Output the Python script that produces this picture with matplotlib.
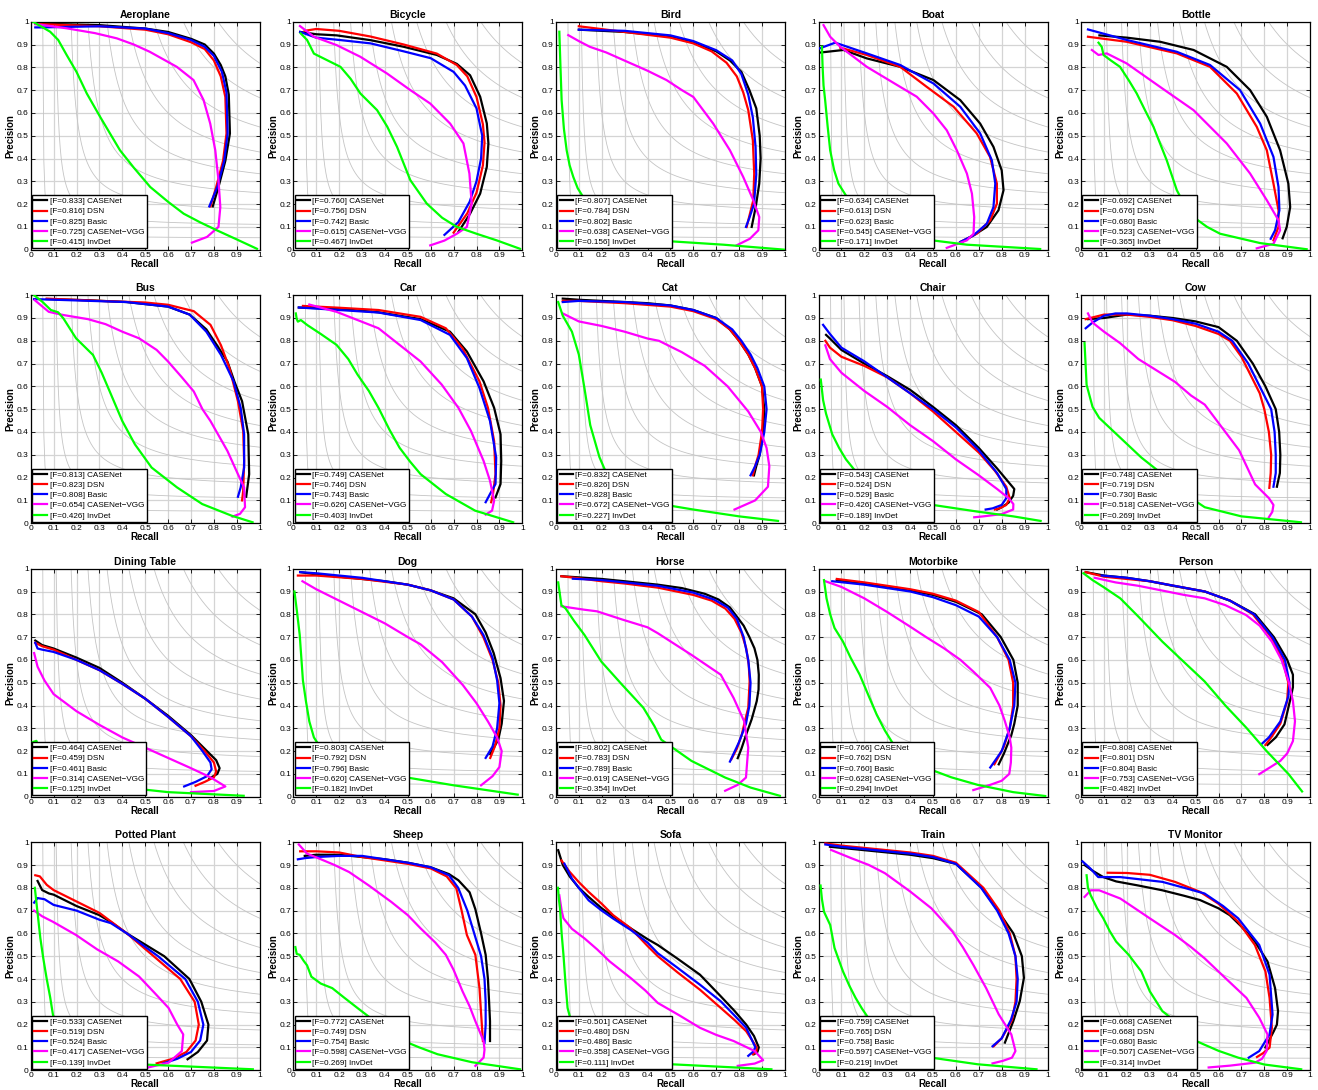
import numpy as np
import matplotlib
matplotlib.use("Agg")
import matplotlib.pyplot as plt

# ------------------------ data: (recall, precision) points ------------------------
classes = ["Aeroplane", "Bicycle", "Bird", "Boat", "Bottle",
           "Bus", "Car", "Cat", "Chair", "Cow",
           "Dining Table", "Dog", "Horse", "Motorbike", "Person",
           "Potted Plant", "Sheep", "Sofa", "Train", "TV Monitor"]

methods = ["CASENet", "DSN", "Basic", "CASENet\u2212VGG", "InvDet"]
colors = ["#000000", "#ff0000", "#0000ff", "#ff00ff", "#00ff00"]

# F-scores per method, one value per class (same order as classes)
f_casenet = [0.833, 0.760, 0.807, 0.634, 0.692, 0.813, 0.749, 0.832, 0.543, 0.748,
             0.464, 0.803, 0.802, 0.766, 0.808, 0.533, 0.772, 0.501, 0.759, 0.668]
f_dsn = [0.816, 0.756, 0.784, 0.613, 0.676, 0.823, 0.746, 0.826, 0.524, 0.719,
         0.459, 0.792, 0.783, 0.762, 0.801, 0.519, 0.749, 0.480, 0.765, 0.668]
f_basic = [0.825, 0.742, 0.802, 0.623, 0.680, 0.808, 0.743, 0.828, 0.529, 0.730,
           0.461, 0.796, 0.789, 0.760, 0.804, 0.524, 0.754, 0.486, 0.758, 0.680]
f_vgg = [0.725, 0.615, 0.638, 0.545, 0.523, 0.654, 0.626, 0.672, 0.426, 0.518,
         0.314, 0.620, 0.619, 0.628, 0.753, 0.417, 0.598, 0.358, 0.597, 0.507]
f_invdet = [0.415, 0.467, 0.156, 0.171, 0.365, 0.426, 0.403, 0.227, 0.189, 0.269,
            0.125, 0.182, 0.354, 0.294, 0.482, 0.139, 0.269, 0.111, 0.219, 0.314]

aeroplane = {
    "CASENet": [(0.02, 0.99), (0.1, 0.99), (0.3, 0.985), (0.5, 0.97), (0.6, 0.955), (0.7, 0.925), (0.76, 0.9),
                (0.8, 0.86), (0.83, 0.81), (0.85, 0.76), (0.865, 0.68), (0.87, 0.51), (0.85, 0.39),
                (0.82, 0.275), (0.795, 0.19)],
    "DSN": [(0.02, 0.99), (0.3, 0.98), (0.5, 0.965), (0.6, 0.945), (0.7, 0.91), (0.76, 0.88), (0.8, 0.83),
            (0.83, 0.76), (0.85, 0.67), (0.855, 0.51), (0.84, 0.39), (0.81, 0.275), (0.785, 0.19)],
    "Basic": [(0.02, 0.975), (0.05, 0.975), (0.3, 0.98), (0.5, 0.97), (0.6, 0.95), (0.7, 0.92), (0.76, 0.89),
              (0.8, 0.85), (0.835, 0.78), (0.855, 0.69), (0.86, 0.51), (0.845, 0.39), (0.815, 0.275),
              (0.78, 0.19)],
    "VGG": [(0.02, 0.99), (0.157, 0.971), (0.28, 0.95), (0.376, 0.927), (0.45, 0.9), (0.52, 0.868), (0.638, 0.802),
            (0.711, 0.744), (0.755, 0.656), (0.784, 0.553), (0.806, 0.436), (0.82, 0.305), (0.828, 0.187),
            (0.82, 0.1), (0.77, 0.056), (0.704, 0.031)],
    "InvDet": [(0.01, 1.0), (0.085, 0.956), (0.12, 0.92), (0.157, 0.854), (0.2, 0.78), (0.245, 0.685),
               (0.303, 0.583), (0.39, 0.436), (0.45, 0.36), (0.522, 0.275), (0.6, 0.21), (0.668, 0.158),
               (0.74, 0.12), (0.813, 0.085), (0.9, 0.045), (0.988, 0.004)],
}

bicycle = {
    "CASENet": [(0.03, 0.955), (0.1, 0.945), (0.19, 0.94), (0.337, 0.919), (0.482, 0.89), (0.627, 0.854),
                (0.714, 0.815), (0.772, 0.765), (0.816, 0.671), (0.845, 0.554), (0.852, 0.466), (0.845, 0.363),
                (0.816, 0.246), (0.772, 0.158), (0.721, 0.078)],
    "DSN": [(0.05, 0.96), (0.1, 0.968), (0.2, 0.96), (0.337, 0.935), (0.482, 0.9), (0.627, 0.86), (0.714, 0.81),
            (0.76, 0.76), (0.8, 0.67), (0.828, 0.55), (0.835, 0.47), (0.828, 0.37), (0.8, 0.25), (0.76, 0.16),
            (0.7, 0.075)],
    "Basic": [(0.03, 0.955), (0.1, 0.93), (0.2, 0.92), (0.337, 0.905), (0.482, 0.87), (0.6, 0.84), (0.7, 0.78),
              (0.75, 0.72), (0.8, 0.62), (0.825, 0.5), (0.82, 0.4), (0.8, 0.3), (0.77, 0.21), (0.72, 0.12),
              (0.66, 0.065)],
    "VGG": [(0.029, 0.981), (0.09, 0.934), (0.19, 0.897), (0.293, 0.846), (0.409, 0.773), (0.511, 0.7),
            (0.598, 0.641), (0.685, 0.553), (0.743, 0.466), (0.769, 0.334), (0.779, 0.202), (0.758, 0.1),
            (0.714, 0.07), (0.66, 0.04), (0.598, 0.019)],
    "InvDet": [(0.032, 0.949), (0.06, 0.92), (0.09, 0.86), (0.15, 0.83), (0.206, 0.802), (0.25, 0.75),
               (0.293, 0.685), (0.366, 0.612), (0.41, 0.54), (0.453, 0.451), (0.511, 0.305), (0.583, 0.202),
               (0.65, 0.14), (0.714, 0.1), (0.8, 0.07), (0.888, 0.041), (0.99, 0.004)],
}

bird = {
    "CASENet": [(0.1, 0.965), (0.3, 0.955), (0.5, 0.935), (0.6, 0.91), (0.7, 0.87), (0.76, 0.83), (0.81, 0.78),
                (0.845, 0.7), (0.875, 0.62), (0.89, 0.5), (0.894, 0.4), (0.888, 0.29), (0.873, 0.19),
                (0.855, 0.1)],
    "DSN": [(0.1, 0.98), (0.3, 0.955), (0.5, 0.93), (0.6, 0.905), (0.68, 0.87), (0.745, 0.82), (0.79, 0.76),
            (0.818, 0.69), (0.84, 0.612), (0.86, 0.48), (0.866, 0.334), (0.862, 0.217), (0.833, 0.1)],
    "Basic": [(0.1, 0.965), (0.3, 0.96), (0.5, 0.94), (0.6, 0.915), (0.7, 0.875), (0.77, 0.83), (0.81, 0.77),
              (0.84, 0.68), (0.86, 0.58), (0.872, 0.45), (0.875, 0.33), (0.865, 0.2), (0.845, 0.14),
              (0.83, 0.1)],
    "VGG": [(0.054, 0.941), (0.1, 0.915), (0.148, 0.89), (0.22, 0.865), (0.294, 0.832), (0.4, 0.785),
            (0.483, 0.744), (0.55, 0.7), (0.6, 0.67), (0.687, 0.553), (0.76, 0.436), (0.818, 0.319),
            (0.862, 0.217), (0.888, 0.143), (0.884, 0.085), (0.847, 0.048), (0.789, 0.019)],
    "InvDet": [(0.015, 0.956), (0.02, 0.8), (0.025, 0.656), (0.035, 0.53), (0.047, 0.436), (0.06, 0.37),
               (0.076, 0.319), (0.095, 0.27), (0.119, 0.231), (0.16, 0.15), (0.22, 0.1), (0.3, 0.07),
               (0.483, 0.038), (0.731, 0.022), (1.0, 0.0)],
}

boat = {
    "CASENet": [(0.01, 0.865), (0.109, 0.876), (0.211, 0.839), (0.357, 0.802), (0.502, 0.744), (0.619, 0.656),
                (0.706, 0.553), (0.764, 0.451), (0.8, 0.348), (0.808, 0.261), (0.786, 0.173), (0.735, 0.1),
                (0.677, 0.063), (0.62, 0.03)],
    "DSN": [(0.095, 0.886), (0.211, 0.854), (0.357, 0.802), (0.473, 0.714), (0.59, 0.627), (0.691, 0.51),
            (0.749, 0.407), (0.779, 0.29), (0.779, 0.202), (0.75, 0.129), (0.691, 0.07), (0.619, 0.034)],
    "Basic": [(0.005, 0.883), (0.073, 0.908), (0.211, 0.861), (0.357, 0.81), (0.502, 0.729), (0.619, 0.627),
              (0.706, 0.51), (0.757, 0.392), (0.772, 0.29), (0.764, 0.187), (0.735, 0.114), (0.677, 0.063),
              (0.619, 0.034)],
    "VGG": [(0.022, 0.985), (0.051, 0.934), (0.095, 0.89), (0.211, 0.802), (0.357, 0.714), (0.429, 0.671),
            (0.502, 0.597), (0.56, 0.524), (0.604, 0.436), (0.648, 0.334), (0.67, 0.246), (0.68, 0.143),
            (0.677, 0.07), (0.648, 0.041), (0.56, 0.008)],
    "InvDet": [(0.015, 0.89), (0.018, 0.8), (0.022, 0.72), (0.029, 0.656), (0.04, 0.54), (0.051, 0.436),
               (0.068, 0.35), (0.087, 0.29), (0.124, 0.231), (0.17, 0.17), (0.23, 0.12), (0.32, 0.08),
               (0.473, 0.044), (0.648, 0.022), (0.968, 0.003)],
}

bottle = {
    "CASENet": [(0.08, 0.94), (0.2, 0.93), (0.345, 0.912), (0.491, 0.876), (0.636, 0.802), (0.738, 0.7),
                (0.811, 0.583), (0.869, 0.436), (0.905, 0.29), (0.913, 0.187), (0.898, 0.1), (0.88, 0.05)],
    "DSN": [(0.03, 0.934), (0.199, 0.912), (0.418, 0.861), (0.563, 0.802), (0.68, 0.685), (0.767, 0.539),
            (0.811, 0.436), (0.84, 0.29), (0.862, 0.173), (0.862, 0.1), (0.84, 0.041)],
    "Basic": [(0.03, 0.966), (0.199, 0.92), (0.418, 0.868), (0.563, 0.81), (0.694, 0.7), (0.782, 0.553),
              (0.84, 0.407), (0.862, 0.275), (0.866, 0.173), (0.847, 0.085), (0.828, 0.048)],
    "VGG": [(0.047, 0.876), (0.076, 0.854), (0.112, 0.861), (0.199, 0.817), (0.345, 0.714), (0.491, 0.612),
            (0.636, 0.466), (0.738, 0.334), (0.811, 0.217), (0.862, 0.129), (0.869, 0.085), (0.84, 0.026),
            (0.767, 0.006)],
    "InvDet": [(0.076, 0.908), (0.09, 0.89), (0.098, 0.854), (0.13, 0.83), (0.17, 0.802), (0.21, 0.74),
               (0.243, 0.685), (0.28, 0.61), (0.316, 0.539), (0.374, 0.392), (0.418, 0.261), (0.45, 0.2),
               (0.491, 0.143), (0.55, 0.1), (0.607, 0.07), (0.782, 0.029), (0.985, 0.002)],
}

bus = {
    "CASENet": [(0.07, 0.983), (0.25, 0.978), (0.418, 0.97), (0.6, 0.95), (0.694, 0.915), (0.767, 0.85),
                (0.822, 0.767), (0.859, 0.709), (0.89, 0.62), (0.923, 0.535), (0.95, 0.39), (0.954, 0.215),
                (0.941, 0.116)],
    "DSN": [(0.07, 0.985), (0.3, 0.975), (0.5, 0.968), (0.6, 0.958), (0.712, 0.93), (0.785, 0.87), (0.831, 0.78),
            (0.868, 0.68), (0.905, 0.535), (0.928, 0.404), (0.932, 0.273), (0.928, 0.142), (0.923, 0.1)],
    "Basic": [(0.015, 0.983), (0.2, 0.977), (0.418, 0.97), (0.6, 0.95), (0.694, 0.915), (0.767, 0.84),
              (0.831, 0.738), (0.886, 0.622), (0.917, 0.506), (0.932, 0.39), (0.932, 0.244), (0.917, 0.157),
              (0.905, 0.116)],
    "VGG": [(0.018, 0.978), (0.079, 0.927), (0.143, 0.913), (0.25, 0.895), (0.327, 0.873), (0.4, 0.84),
            (0.473, 0.811), (0.55, 0.76), (0.6, 0.709), (0.66, 0.64), (0.712, 0.578), (0.75, 0.5),
            (0.785, 0.448), (0.859, 0.317), (0.905, 0.215), (0.932, 0.157), (0.936, 0.07), (0.914, 0.041),
            (0.881, 0.029)],
    "InvDet": [(0.015, 1.0), (0.051, 0.971), (0.088, 0.935), (0.12, 0.925), (0.143, 0.898), (0.198, 0.811),
               (0.272, 0.738), (0.31, 0.66), (0.345, 0.578), (0.4, 0.448), (0.455, 0.346), (0.528, 0.244),
               (0.639, 0.157), (0.749, 0.084), (0.877, 0.033), (0.969, 0.004)],
}

car = {
    "CASENet": [(0.024, 0.946), (0.2, 0.94), (0.372, 0.925), (0.556, 0.895), (0.684, 0.84), (0.758, 0.753),
                (0.831, 0.622), (0.877, 0.506), (0.905, 0.39), (0.908, 0.273), (0.905, 0.172), (0.883, 0.113)],
    "DSN": [(0.042, 0.953), (0.2, 0.945), (0.372, 0.935), (0.556, 0.905), (0.666, 0.855), (0.739, 0.767),
            (0.813, 0.622), (0.85, 0.506), (0.877, 0.36), (0.883, 0.215), (0.872, 0.128), (0.864, 0.092)],
    "Basic": [(0.024, 0.946), (0.2, 0.935), (0.372, 0.924), (0.556, 0.891), (0.684, 0.826), (0.758, 0.724),
              (0.813, 0.593), (0.859, 0.448), (0.886, 0.288), (0.883, 0.172), (0.859, 0.128), (0.84, 0.092)],
    "VGG": [(0.07, 0.959), (0.189, 0.927), (0.372, 0.855), (0.483, 0.767), (0.556, 0.709), (0.648, 0.608),
            (0.721, 0.506), (0.776, 0.404), (0.831, 0.273), (0.859, 0.186), (0.877, 0.099), (0.868, 0.055),
            (0.84, 0.038)],
    "InvDet": [(0.011, 0.92), (0.015, 0.895), (0.02, 0.884), (0.033, 0.891), (0.061, 0.869), (0.12, 0.83),
               (0.189, 0.782), (0.24, 0.72), (0.281, 0.651), (0.33, 0.58), (0.372, 0.506), (0.42, 0.41),
               (0.464, 0.331), (0.51, 0.27), (0.556, 0.215), (0.666, 0.128), (0.794, 0.055), (0.96, 0.004)],
}

cat = {
    "CASENet": [(0.03, 0.985), (0.1, 0.98), (0.2, 0.975), (0.3, 0.97), (0.4, 0.965), (0.5, 0.955), (0.6, 0.935),
                (0.7, 0.9), (0.76, 0.85), (0.8, 0.8), (0.84, 0.74), (0.87, 0.68), (0.9, 0.6), (0.91, 0.5),
                (0.905, 0.4), (0.89, 0.3), (0.875, 0.25), (0.865, 0.21)],
    "DSN": [(0.03, 0.975), (0.1, 0.975), (0.3, 0.965), (0.5, 0.95), (0.6, 0.93), (0.7, 0.895), (0.76, 0.85),
            (0.8, 0.8), (0.84, 0.74), (0.87, 0.68), (0.9, 0.6), (0.905, 0.5), (0.9, 0.4), (0.885, 0.3),
            (0.87, 0.25), (0.86, 0.21)],
    "Basic": [(0.03, 0.97), (0.1, 0.975), (0.3, 0.97), (0.5, 0.955), (0.6, 0.935), (0.7, 0.9), (0.77, 0.85),
              (0.81, 0.8), (0.85, 0.74), (0.88, 0.68), (0.91, 0.6), (0.92, 0.5), (0.91, 0.4), (0.89, 0.3),
              (0.87, 0.25), (0.85, 0.21)],
    "VGG": [(0.03, 0.92), (0.1, 0.885), (0.2, 0.865), (0.3, 0.84), (0.4, 0.81), (0.45, 0.8), (0.55, 0.75),
            (0.65, 0.69), (0.75, 0.6), (0.84, 0.49), (0.895, 0.4), (0.92, 0.33), (0.932, 0.25), (0.926, 0.16),
            (0.87, 0.1), (0.78, 0.06)],
    "InvDet": [(0.01, 0.97), (0.03, 0.91), (0.07, 0.84), (0.1, 0.74), (0.125, 0.59), (0.15, 0.43), (0.19, 0.29),
               (0.22, 0.22), (0.27, 0.15), (0.35, 0.11), (0.45, 0.085), (0.6, 0.06), (0.8, 0.03), (0.97, 0.01)],
}

chair = {
    "CASENet": [(0.033, 0.826), (0.05, 0.81), (0.1, 0.76), (0.2, 0.7), (0.3, 0.645), (0.4, 0.585), (0.5, 0.51),
                (0.6, 0.43), (0.7, 0.33), (0.78, 0.24), (0.83, 0.18), (0.855, 0.15), (0.85, 0.12), (0.83, 0.09),
                (0.8, 0.07), (0.78, 0.06)],
    "DSN": [(0.03, 0.8), (0.05, 0.77), (0.1, 0.73), (0.2, 0.69), (0.3, 0.64), (0.4, 0.57), (0.5, 0.49),
            (0.6, 0.4), (0.7, 0.31), (0.77, 0.23), (0.82, 0.16), (0.835, 0.11), (0.82, 0.08), (0.79, 0.065),
            (0.77, 0.06)],
    "Basic": [(0.02, 0.87), (0.05, 0.83), (0.1, 0.77), (0.2, 0.71), (0.3, 0.64), (0.4, 0.57), (0.5, 0.5),
              (0.6, 0.42), (0.7, 0.32), (0.78, 0.22), (0.82, 0.15), (0.82, 0.11), (0.8, 0.08), (0.76, 0.065),
              (0.73, 0.06)],
    "VGG": [(0.03, 0.78), (0.05, 0.72), (0.1, 0.66), (0.2, 0.58), (0.3, 0.51), (0.4, 0.43), (0.5, 0.36),
            (0.6, 0.28), (0.7, 0.21), (0.78, 0.15), (0.83, 0.11), (0.851, 0.084), (0.85, 0.06), (0.8, 0.04),
            (0.72, 0.03), (0.68, 0.026)],
    "InvDet": [(0.01, 0.63), (0.02, 0.54), (0.033, 0.48), (0.06, 0.39), (0.09, 0.33), (0.12, 0.28), (0.16, 0.23),
               (0.22, 0.18), (0.3, 0.14), (0.4, 0.105), (0.5, 0.08), (0.7, 0.05), (0.85, 0.03), (0.97, 0.01)],
}

cow = {
    "CASENet": [(0.03, 0.895), (0.1, 0.9), (0.2, 0.915), (0.3, 0.91), (0.4, 0.9), (0.5, 0.885), (0.6, 0.86),
                (0.68, 0.8), (0.75, 0.7), (0.805, 0.6), (0.85, 0.5), (0.865, 0.4), (0.87, 0.3), (0.868, 0.22),
                (0.855, 0.16)],
    "DSN": [(0.02, 0.895), (0.1, 0.915), (0.2, 0.915), (0.3, 0.905), (0.4, 0.89), (0.5, 0.865), (0.6, 0.83),
            (0.65, 0.8), (0.7, 0.73), (0.75, 0.63), (0.78, 0.57), (0.8, 0.5), (0.82, 0.4), (0.83, 0.3),
            (0.828, 0.22), (0.822, 0.155)],
    "Basic": [(0.02, 0.855), (0.05, 0.88), (0.1, 0.91), (0.15, 0.92), (0.2, 0.92), (0.3, 0.91), (0.4, 0.895),
              (0.5, 0.875), (0.6, 0.84), (0.66, 0.8), (0.73, 0.7), (0.78, 0.6), (0.83, 0.5), (0.845, 0.4),
              (0.85, 0.3), (0.85, 0.22), (0.84, 0.16)],
    "VGG": [(0.03, 0.92), (0.05, 0.88), (0.1, 0.84), (0.17, 0.79), (0.25, 0.72), (0.33, 0.67), (0.41, 0.62),
            (0.48, 0.56), (0.54, 0.52), (0.6, 0.44), (0.69, 0.32), (0.76, 0.17), (0.82, 0.11), (0.84, 0.08),
            (0.835, 0.05), (0.82, 0.026)],
    "InvDet": [(0.015, 0.79), (0.024, 0.607), (0.05, 0.51), (0.079, 0.462), (0.171, 0.375), (0.263, 0.288),
               (0.355, 0.215), (0.45, 0.13), (0.54, 0.07), (0.7, 0.03), (0.96, 0.004)],
}

dining_table = {
    "CASENet": [(0.02, 0.685), (0.05, 0.665), (0.1, 0.65), (0.2, 0.61), (0.3, 0.565), (0.4, 0.5), (0.5, 0.43),
                (0.6, 0.355), (0.7, 0.27), (0.77, 0.2), (0.81, 0.16), (0.825, 0.125), (0.815, 0.1),
                (0.78, 0.08)],
    "DSN": [(0.02, 0.675), (0.05, 0.66), (0.1, 0.645), (0.2, 0.6), (0.3, 0.555), (0.4, 0.495), (0.5, 0.43),
            (0.6, 0.35), (0.7, 0.265), (0.76, 0.2), (0.8, 0.15), (0.81, 0.11), (0.8, 0.085), (0.76, 0.065),
            (0.72, 0.048)],
    "Basic": [(0.02, 0.675), (0.03, 0.65), (0.05, 0.645), (0.1, 0.635), (0.2, 0.6), (0.3, 0.555), (0.4, 0.495),
              (0.5, 0.43), (0.6, 0.35), (0.7, 0.265), (0.75, 0.2), (0.785, 0.15), (0.79, 0.12), (0.77, 0.09),
              (0.72, 0.065), (0.67, 0.045)],
    "VGG": [(0.015, 0.63), (0.03, 0.57), (0.06, 0.51), (0.1, 0.45), (0.2, 0.375), (0.3, 0.315), (0.4, 0.26),
            (0.5, 0.215), (0.6, 0.17), (0.7, 0.125), (0.785, 0.085), (0.85, 0.045), (0.8, 0.025), (0.7, 0.02)],
    "InvDet": [(0.01, 0.24), (0.025, 0.245), (0.04, 0.2), (0.07, 0.14), (0.12, 0.09), (0.2, 0.06), (0.3, 0.045),
               (0.47, 0.034), (0.6, 0.02), (0.93, 0.004)],
}

dog = {
    "CASENet": [(0.03, 0.985), (0.1, 0.975), (0.2, 0.965), (0.3, 0.955), (0.4, 0.945), (0.5, 0.93), (0.6, 0.905),
                (0.7, 0.87), (0.795, 0.8), (0.84, 0.72), (0.875, 0.63), (0.905, 0.52), (0.92, 0.42),
                (0.91, 0.32), (0.895, 0.25), (0.86, 0.187)],
    "DSN": [(0.02, 0.97), (0.1, 0.97), (0.3, 0.955), (0.5, 0.93), (0.6, 0.905), (0.7, 0.865), (0.78, 0.79),
            (0.83, 0.7), (0.87, 0.6), (0.895, 0.5), (0.905, 0.4), (0.9, 0.3), (0.88, 0.22), (0.86, 0.17)],
    "Basic": [(0.03, 0.985), (0.1, 0.98), (0.3, 0.96), (0.5, 0.93), (0.6, 0.905), (0.7, 0.865), (0.78, 0.79),
              (0.83, 0.71), (0.87, 0.61), (0.89, 0.51), (0.9, 0.41), (0.89, 0.3), (0.87, 0.22), (0.84, 0.17)],
    "VGG": [(0.04, 0.945), (0.1, 0.91), (0.2, 0.86), (0.3, 0.81), (0.4, 0.76), (0.5, 0.7), (0.556, 0.668),
            (0.65, 0.59), (0.74, 0.49), (0.8, 0.41), (0.85, 0.33), (0.89, 0.26), (0.91, 0.2), (0.9, 0.13),
            (0.87, 0.09), (0.82, 0.05)],
    "InvDet": [(0.005, 0.9), (0.015, 0.82), (0.028, 0.71), (0.042, 0.51), (0.055, 0.42), (0.07, 0.33),
               (0.09, 0.26), (0.116, 0.22), (0.2, 0.16), (0.3, 0.12), (0.48, 0.087), (0.7, 0.05),
               (0.98, 0.009)],
}

horse = {
    "CASENet": [(0.024, 0.967), (0.1, 0.962), (0.2, 0.955), (0.3, 0.945), (0.445, 0.93), (0.55, 0.915),
                (0.65, 0.89), (0.71, 0.865), (0.76, 0.83), (0.79, 0.79), (0.82, 0.75), (0.845, 0.7),
                (0.867, 0.651), (0.88, 0.6), (0.886, 0.535), (0.885, 0.47), (0.877, 0.419), (0.855, 0.34),
                (0.831, 0.273), (0.81, 0.21), (0.794, 0.169)],
    "DSN": [(0.024, 0.967), (0.1, 0.958), (0.2, 0.945), (0.3, 0.935), (0.445, 0.917), (0.6, 0.885),
            (0.68, 0.86), (0.74, 0.825), (0.78, 0.78), (0.81, 0.72), (0.831, 0.651), (0.842, 0.58),
            (0.846, 0.506), (0.84, 0.39), (0.825, 0.33), (0.812, 0.273), (0.79, 0.21), (0.766, 0.164)],
    "Basic": [(0.074, 0.956), (0.2, 0.95), (0.3, 0.94), (0.445, 0.925), (0.6, 0.895), (0.69, 0.865),
              (0.75, 0.83), (0.79, 0.78), (0.82, 0.7), (0.84, 0.6), (0.85, 0.5), (0.845, 0.4), (0.83, 0.32),
              (0.8, 0.24), (0.76, 0.154)],
    "VGG": [(0.024, 0.835), (0.125, 0.82), (0.18, 0.813), (0.29, 0.777), (0.4, 0.743), (0.445, 0.717),
            (0.592, 0.622), (0.72, 0.535), (0.776, 0.433), (0.822, 0.331), (0.84, 0.215), (0.83, 0.084),
            (0.794, 0.052), (0.739, 0.026)],
    "InvDet": [(0.01, 0.94), (0.024, 0.84), (0.042, 0.826), (0.08, 0.77), (0.125, 0.709), (0.198, 0.593),
               (0.29, 0.49), (0.382, 0.39), (0.43, 0.31), (0.46, 0.25), (0.592, 0.157), (0.739, 0.084),
               (0.85, 0.04), (0.978, 0.004)],
}

motorbike = {
    "CASENet": [(0.08, 0.95), (0.2, 0.935), (0.3, 0.92), (0.4, 0.905), (0.5, 0.885), (0.6, 0.855), (0.713, 0.8),
                (0.796, 0.7), (0.851, 0.6), (0.87, 0.5), (0.87, 0.4), (0.855, 0.32), (0.842, 0.27),
                (0.81, 0.19), (0.787, 0.142)],
    "DSN": [(0.08, 0.955), (0.2, 0.94), (0.3, 0.925), (0.4, 0.91), (0.5, 0.89), (0.6, 0.86), (0.7, 0.81),
            (0.78, 0.7), (0.83, 0.6), (0.85, 0.5), (0.85, 0.4), (0.835, 0.3), (0.81, 0.22), (0.768, 0.142)],
    "Basic": [(0.06, 0.945), (0.2, 0.93), (0.3, 0.915), (0.4, 0.9), (0.5, 0.875), (0.6, 0.84), (0.7, 0.79),
              (0.78, 0.7), (0.835, 0.6), (0.86, 0.5), (0.855, 0.4), (0.835, 0.3), (0.8, 0.2), (0.75, 0.128)],
    "VGG": [(0.03, 0.945), (0.1, 0.92), (0.2, 0.87), (0.3, 0.81), (0.4, 0.746), (0.47, 0.7), (0.548, 0.651),
            (0.62, 0.6), (0.676, 0.549), (0.75, 0.477), (0.79, 0.4), (0.814, 0.331), (0.835, 0.26),
            (0.842, 0.215), (0.84, 0.15), (0.833, 0.1), (0.8, 0.07), (0.75, 0.052), (0.676, 0.029)],
    "InvDet": [(0.024, 0.95), (0.035, 0.87), (0.051, 0.8), (0.07, 0.74), (0.107, 0.68), (0.14, 0.61),
               (0.18, 0.535), (0.22, 0.44), (0.254, 0.36), (0.29, 0.29), (0.327, 0.23), (0.4, 0.17),
               (0.474, 0.125), (0.58, 0.085), (0.695, 0.052), (0.85, 0.02), (0.99, 0.003)],
}

person = {
    "CASENet": [(0.02, 0.985), (0.1, 0.97), (0.2, 0.96), (0.3, 0.945), (0.4, 0.925), (0.54, 0.9), (0.65, 0.86),
                (0.76, 0.8), (0.842, 0.7), (0.9, 0.6), (0.925, 0.535), (0.925, 0.48), (0.915, 0.433),
                (0.888, 0.317), (0.85, 0.26), (0.814, 0.227)],
    "DSN": [(0.02, 0.985), (0.1, 0.965), (0.3, 0.945), (0.54, 0.9), (0.65, 0.86), (0.75, 0.8), (0.83, 0.7),
            (0.88, 0.6), (0.905, 0.5), (0.9, 0.42), (0.87, 0.32), (0.83, 0.26), (0.805, 0.227)],
    "Basic": [(0.09, 0.97), (0.2, 0.96), (0.3, 0.945), (0.54, 0.9), (0.65, 0.86), (0.755, 0.8), (0.835, 0.7),
              (0.89, 0.6), (0.91, 0.5), (0.905, 0.44), (0.87, 0.33), (0.82, 0.26), (0.787, 0.23)],
    "VGG": [(0.06, 0.96), (0.15, 0.94), (0.25, 0.925), (0.35, 0.905), (0.45, 0.885), (0.54, 0.87),
            (0.63, 0.84), (0.72, 0.797), (0.78, 0.75), (0.833, 0.68), (0.875, 0.6), (0.906, 0.506),
            (0.925, 0.42), (0.934, 0.331), (0.925, 0.244), (0.9, 0.19), (0.87, 0.157), (0.778, 0.099)],
    "InvDet": [(0.01, 0.98), (0.05, 0.95), (0.097, 0.92), (0.171, 0.87), (0.25, 0.79), (0.355, 0.68),
               (0.45, 0.59), (0.539, 0.506), (0.63, 0.4), (0.722, 0.302), (0.81, 0.2), (0.906, 0.099),
               (0.965, 0.023)],
}

potted_plant = {
    "CASENet": [(0.03, 0.83), (0.05, 0.79), (0.08, 0.775), (0.1, 0.77), (0.2, 0.72), (0.3, 0.68), (0.35, 0.65),
                (0.42, 0.6), (0.583, 0.5), (0.693, 0.4), (0.745, 0.3), (0.776, 0.2), (0.77, 0.13), (0.73, 0.08),
                (0.685, 0.048)],
    "DSN": [(0.02, 0.855), (0.04, 0.85), (0.07, 0.813), (0.1, 0.79), (0.16, 0.76), (0.23, 0.725), (0.3, 0.69),
            (0.36, 0.645), (0.42, 0.6), (0.537, 0.5), (0.653, 0.4), (0.716, 0.3), (0.734, 0.2), (0.72, 0.13),
            (0.68, 0.08), (0.62, 0.05), (0.55, 0.03)],
    "Basic": [(0.015, 0.735), (0.03, 0.755), (0.06, 0.75), (0.1, 0.725), (0.2, 0.7), (0.3, 0.66), (0.35, 0.645),
              (0.42, 0.6), (0.556, 0.5), (0.675, 0.4), (0.73, 0.3), (0.754, 0.2), (0.74, 0.13), (0.7, 0.08),
              (0.64, 0.05), (0.58, 0.03)],
    "VGG": [(0.015, 0.7), (0.05, 0.675), (0.097, 0.651), (0.198, 0.593), (0.29, 0.53), (0.382, 0.477),
            (0.473, 0.411), (0.54, 0.34), (0.602, 0.273), (0.64, 0.2), (0.666, 0.157), (0.66, 0.084),
            (0.602, 0.033), (0.5, 0.009)],
    "InvDet": [(0.018, 0.8), (0.03, 0.69), (0.042, 0.58), (0.055, 0.49), (0.07, 0.4), (0.085, 0.32),
               (0.097, 0.244), (0.12, 0.17), (0.16, 0.1), (0.25, 0.05), (0.47, 0.026), (0.97, 0.004)],
}

sheep = {
    "CASENet": [(0.05, 0.94), (0.1, 0.945), (0.2, 0.945), (0.3, 0.935), (0.4, 0.925), (0.5, 0.91), (0.6, 0.89),
                (0.68, 0.86), (0.721, 0.833), (0.77, 0.78), (0.795, 0.706), (0.82, 0.6), (0.84, 0.506),
                (0.85, 0.4), (0.855, 0.3), (0.859, 0.215), (0.859, 0.128)],
    "DSN": [(0.03, 0.96), (0.1, 0.96), (0.2, 0.955), (0.3, 0.935), (0.4, 0.92), (0.5, 0.905), (0.6, 0.885),
            (0.67, 0.85), (0.712, 0.797), (0.735, 0.7), (0.758, 0.593), (0.795, 0.506), (0.813, 0.36),
            (0.82, 0.25), (0.828, 0.128)],
    "Basic": [(0.02, 0.925), (0.05, 0.93), (0.1, 0.935), (0.2, 0.94), (0.3, 0.94), (0.4, 0.925), (0.5, 0.91),
              (0.6, 0.89), (0.68, 0.855), (0.72, 0.8), (0.76, 0.7), (0.79, 0.6), (0.82, 0.5), (0.835, 0.4),
              (0.84, 0.3), (0.84, 0.2), (0.835, 0.12)],
    "VGG": [(0.024, 0.99), (0.06, 0.95), (0.116, 0.927), (0.18, 0.9), (0.244, 0.869), (0.33, 0.81),
            (0.428, 0.738), (0.5, 0.68), (0.556, 0.622), (0.62, 0.56), (0.666, 0.506), (0.7, 0.44),
            (0.739, 0.346), (0.77, 0.28), (0.795, 0.215), (0.831, 0.128), (0.835, 0.09), (0.831, 0.055),
            (0.795, 0.019)],
    "InvDet": [(0.009, 0.54), (0.015, 0.51), (0.028, 0.506), (0.045, 0.48), (0.06, 0.46), (0.079, 0.41),
               (0.12, 0.38), (0.17, 0.36), (0.22, 0.32), (0.28, 0.273), (0.336, 0.23), (0.41, 0.17),
               (0.483, 0.128), (0.55, 0.1), (0.63, 0.07), (0.78, 0.035), (0.99, 0.004)],
}

sofa = {
    "CASENet": [(0.01, 0.965), (0.03, 0.9), (0.06, 0.85), (0.1, 0.8), (0.143, 0.76), (0.2, 0.71), (0.25, 0.675),
                (0.327, 0.622), (0.4, 0.575), (0.445, 0.549), (0.53, 0.49), (0.629, 0.419), (0.72, 0.324),
                (0.78, 0.26), (0.831, 0.2), (0.865, 0.15), (0.886, 0.1), (0.88, 0.08), (0.865, 0.07)],
    "DSN": [(0.024, 0.92), (0.06, 0.87), (0.1, 0.825), (0.143, 0.782), (0.2, 0.73), (0.25, 0.68), (0.327, 0.622),
            (0.4, 0.545), (0.445, 0.5), (0.53, 0.43), (0.629, 0.353), (0.72, 0.273), (0.78, 0.22),
            (0.831, 0.171), (0.877, 0.1), (0.875, 0.08), (0.86, 0.07)],
    "Basic": [(0.037, 0.906), (0.07, 0.84), (0.1, 0.8), (0.143, 0.745), (0.2, 0.7), (0.25, 0.665),
              (0.327, 0.615), (0.4, 0.56), (0.445, 0.513), (0.53, 0.45), (0.629, 0.375), (0.72, 0.302),
              (0.78, 0.24), (0.831, 0.186), (0.871, 0.1), (0.86, 0.08), (0.84, 0.063)],
    "VGG": [(0.015, 0.767), (0.025, 0.7), (0.033, 0.666), (0.07, 0.62), (0.125, 0.578), (0.18, 0.53),
            (0.235, 0.477), (0.327, 0.404), (0.39, 0.35), (0.445, 0.295), (0.54, 0.24), (0.629, 0.186),
            (0.7, 0.155), (0.776, 0.128), (0.868, 0.084), (0.905, 0.044), (0.868, 0.029), (0.794, 0.019)],
    "InvDet": [(0.009, 0.8), (0.013, 0.75), (0.018, 0.71), (0.025, 0.6), (0.033, 0.506), (0.042, 0.38),
               (0.051, 0.273), (0.07, 0.2), (0.1, 0.13), (0.15, 0.08), (0.25, 0.05), (0.445, 0.029),
               (0.941, 0.004)],
}

train = {
    "CASENet": [(0.05, 0.98), (0.1, 0.975), (0.2, 0.965), (0.3, 0.955), (0.4, 0.945), (0.5, 0.93), (0.6, 0.905),
                (0.713, 0.8), (0.783, 0.7), (0.851, 0.6), (0.888, 0.5), (0.897, 0.405), (0.879, 0.303),
                (0.851, 0.216), (0.814, 0.121)],
    "DSN": [(0.03, 0.995), (0.1, 0.985), (0.2, 0.975), (0.3, 0.965), (0.4, 0.955), (0.5, 0.94), (0.6, 0.91),
            (0.72, 0.8), (0.79, 0.7), (0.835, 0.6), (0.86, 0.5), (0.865, 0.4), (0.86, 0.3), (0.845, 0.22),
            (0.8, 0.14), (0.765, 0.105)],
    "Basic": [(0.03, 0.99), (0.1, 0.98), (0.2, 0.97), (0.3, 0.96), (0.4, 0.95), (0.5, 0.935), (0.6, 0.905),
              (0.71, 0.8), (0.78, 0.7), (0.83, 0.6), (0.86, 0.5), (0.87, 0.4), (0.865, 0.3), (0.84, 0.22),
              (0.8, 0.14), (0.76, 0.105)],
    "VGG": [(0.055, 0.966), (0.143, 0.93), (0.22, 0.9), (0.29, 0.864), (0.4, 0.784), (0.493, 0.71),
            (0.585, 0.608), (0.63, 0.54), (0.676, 0.462), (0.732, 0.36), (0.787, 0.245), (0.842, 0.157),
            (0.86, 0.084), (0.845, 0.055), (0.805, 0.041), (0.76, 0.03)],
    "InvDet": [(0.009, 0.81), (0.015, 0.75), (0.024, 0.695), (0.051, 0.637), (0.07, 0.536), (0.09, 0.48),
               (0.107, 0.433), (0.135, 0.37), (0.162, 0.317), (0.19, 0.27), (0.217, 0.23), (0.28, 0.16),
               (0.36, 0.1), (0.493, 0.055), (0.695, 0.026), (0.952, 0.004)],
}

tv_monitor = {
    "CASENet": [(0.015, 0.9), (0.05, 0.875), (0.097, 0.847), (0.153, 0.828), (0.25, 0.81), (0.355, 0.789),
                (0.45, 0.765), (0.52, 0.746), (0.6, 0.71), (0.649, 0.68), (0.7, 0.63), (0.759, 0.564),
                (0.814, 0.477), (0.847, 0.36), (0.86, 0.259), (0.855, 0.2), (0.842, 0.172), (0.805, 0.1)],
    "DSN": [(0.116, 0.866), (0.2, 0.865), (0.3, 0.857), (0.41, 0.826), (0.52, 0.782), (0.6, 0.73),
            (0.686, 0.651), (0.759, 0.549), (0.805, 0.433), (0.823, 0.317), (0.833, 0.186), (0.823, 0.099),
            (0.795, 0.075), (0.768, 0.058)],
    "Basic": [(0.006, 0.916), (0.04, 0.885), (0.075, 0.847), (0.171, 0.847), (0.355, 0.826), (0.45, 0.8),
              (0.539, 0.775), (0.62, 0.72), (0.686, 0.666), (0.73, 0.61), (0.778, 0.549), (0.823, 0.419),
              (0.836, 0.244), (0.823, 0.157), (0.778, 0.084), (0.732, 0.055)],
    "VGG": [(0.015, 0.76), (0.042, 0.789), (0.079, 0.789), (0.171, 0.753), (0.235, 0.71), (0.3, 0.666),
            (0.41, 0.593), (0.48, 0.54), (0.539, 0.491), (0.63, 0.404), (0.722, 0.317), (0.778, 0.23),
            (0.814, 0.157), (0.81, 0.084), (0.79, 0.05), (0.759, 0.033), (0.65, 0.02), (0.557, 0.012)],
    "InvDet": [(0.024, 0.855), (0.03, 0.8), (0.042, 0.767), (0.07, 0.71), (0.097, 0.666), (0.125, 0.61),
               (0.153, 0.564), (0.208, 0.506), (0.235, 0.47), (0.263, 0.433), (0.3, 0.346), (0.355, 0.259),
               (0.41, 0.215), (0.45, 0.17), (0.502, 0.128), (0.6, 0.085), (0.686, 0.055), (0.8, 0.025),
               (0.961, 0.004)],
}

curves = [aeroplane, bicycle, bird, boat, bottle, bus, car, cat, chair, cow,
          dining_table, dog, horse, motorbike, person, potted_plant, sheep, sofa, train, tv_monitor]
curve_keys = ["CASENet", "DSN", "Basic", "VGG", "InvDet"]
f_scores = [f_casenet, f_dsn, f_basic, f_vgg, f_invdet]

# ------------------------ figure layout ------------------------
plt.rcParams['font.family'] = ['Liberation Sans', 'DejaVu Sans']
W, H = 1318, 1090
fig = plt.figure(figsize=(W / 100, H / 100), dpi=100)

ax_w, ax_h = 229, 228
ticks = np.round(np.arange(0, 1.01, 0.1), 1)
tick_labels = ["0" if t == 0 else "1" if t == 1 else f"{t:.1f}" for t in ticks]

for idx, name in enumerate(classes):
    row, col = divmod(idx, 5)
    left = 30.7 + col * 262.6
    top = 21.7 + row * 273.5
    ax = fig.add_axes([left / W, 1 - (top + ax_h) / H, ax_w / W, ax_h / H])

    # grid and iso-F reference curves
    for t in ticks:
        ax.axhline(t, color="#d4d4d4", lw=0.9, zorder=0)
        ax.axvline(t, color="#d4d4d4", lw=0.9, zorder=0)
    for F in np.arange(0.1, 0.95, 0.1):
        r = np.linspace(F / (2 - F), 1, 200)
        ax.plot(r, F * r / (2 * r - F), color="#c4c4c4", lw=0.6, zorder=1)

    # PR curves
    for m, key in enumerate(curve_keys):
        pts = np.array(curves[idx][key])
        ax.plot(pts[:, 0], pts[:, 1], color=colors[m], lw=1.6, zorder=3 + m,
                label=f"[F={f_scores[m][idx]:.3f}] {methods[m]}")

    ax.set_xlim(0, 1)
    ax.set_ylim(0, 1)
    ax.set_xticks(ticks)
    ax.set_yticks(ticks)
    ax.set_xticklabels(tick_labels)
    ax.set_yticklabels(tick_labels)
    ax.tick_params(direction="in", length=3, width=0.6, labelsize=6, pad=1.5,
                   top=True, right=True)
    for s in ax.spines.values():
        s.set_linewidth(0.9)

    ax.set_title(name, fontsize=7.5, fontweight="bold", pad=3)
    ax.set_xlabel("Recall", fontsize=7, fontweight="bold", labelpad=0)
    ax.set_ylabel("Precision", fontsize=7, fontweight="bold", labelpad=1)

    leg = ax.legend(loc="lower left", fontsize=5.9, frameon=True, fancybox=False,
                    borderaxespad=0.15, borderpad=0.3, labelspacing=0.3,
                    handlelength=1.6, handletextpad=0.25)
    leg.get_frame().set_edgecolor("black")
    leg.get_frame().set_linewidth(1.0)
    leg.get_frame().set_alpha(1)
    leg.set_zorder(20)

plt.savefig("out.png", dpi=100)
